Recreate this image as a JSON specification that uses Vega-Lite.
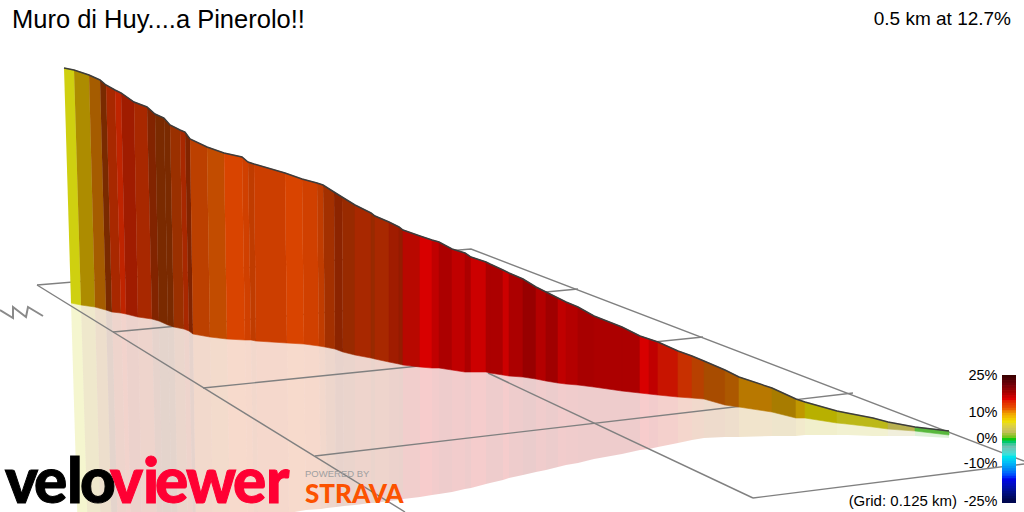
{"$schema":"https://vega.github.io/schema/vega-lite/v6.json","width":1024,"height":512,"padding":0,"autosize":{"type":"none"},"background":"white","view":{"stroke":null},
"config":{"legend":{"disable":true},"range":{"category":["#cfd010","#ad8c00","#a55c00","#7a2a00","#a82800","#bf2400","#a01c00","#822400","#9a3000","#bc4000","#c24c00","#d94400","#c03c00","#d04000","#cc3e00","#8c2400","#b80800","#d80000","#c00000","#ac0000","#980000","#cc0000","#c81400","#c83000","#b84000","#a84c00","#ac5800","#b87800","#a87c00","#c09800","#b8b000","#bcb818","#b8b050","#58b83c","#a33000","#982a00","#941c00","#b40000","#a00000","#a80000"]}},
"title":{"text":"Muro di Huy....a Pinerolo!!","anchor":"start","frame":"group","orient":"top","offset":-33,"dx":12,"font":"Liberation Sans","fontSize":25.5,"fontWeight":"normal","color":"#000"},
"datasets":{
"wallLeft":[
{"s":0,"t":"01","o":1,"x":64,"y":68},{"s":0,"t":"01","o":2,"x":74,"y":70},{"s":0,"t":"01","o":3,"x":81,"y":305},{"s":0,"t":"01","o":4,"x":71,"y":303},
{"s":1,"t":"02","o":1,"x":74,"y":70},{"s":1,"t":"02","o":2,"x":89,"y":75},{"s":1,"t":"02","o":3,"x":95,"y":307},{"s":1,"t":"02","o":4,"x":81,"y":305},
{"s":2,"t":"03","o":1,"x":89,"y":75},{"s":2,"t":"03","o":2,"x":100,"y":80},{"s":2,"t":"03","o":3,"x":106,"y":310},{"s":2,"t":"03","o":4,"x":95,"y":307},
{"s":3,"t":"04","o":1,"x":100,"y":80},{"s":3,"t":"04","o":2,"x":106,"y":85},{"s":3,"t":"04","o":3,"x":112,"y":312},{"s":3,"t":"04","o":4,"x":106,"y":310},
{"s":4,"t":"05","o":1,"x":106,"y":85},{"s":4,"t":"05","o":2,"x":115,"y":90},{"s":4,"t":"05","o":3,"x":121,"y":313},{"s":4,"t":"05","o":4,"x":112,"y":312},
{"s":5,"t":"06","o":1,"x":115,"y":90},{"s":5,"t":"06","o":2,"x":121,"y":93},{"s":5,"t":"06","o":3,"x":126,"y":314},{"s":5,"t":"06","o":4,"x":121,"y":313},
{"s":6,"t":"07","o":1,"x":121,"y":93},{"s":6,"t":"07","o":2,"x":134,"y":102},{"s":6,"t":"07","o":3,"x":138,"y":317},{"s":6,"t":"07","o":4,"x":126,"y":314},
{"s":7,"t":"05","o":1,"x":134,"y":102},{"s":7,"t":"05","o":2,"x":147,"y":107},{"s":7,"t":"05","o":3,"x":152,"y":319},{"s":7,"t":"05","o":4,"x":138,"y":317},
{"s":8,"t":"08","o":1,"x":147,"y":107},{"s":8,"t":"08","o":2,"x":155,"y":114},{"s":8,"t":"08","o":3,"x":159,"y":321},{"s":8,"t":"08","o":4,"x":152,"y":319},
{"s":9,"t":"04","o":1,"x":155,"y":114},{"s":9,"t":"04","o":2,"x":164,"y":118},{"s":9,"t":"04","o":3,"x":168,"y":325},{"s":9,"t":"04","o":4,"x":159,"y":321},
{"s":10,"t":"04","o":1,"x":164,"y":118},{"s":10,"t":"04","o":2,"x":170,"y":125},{"s":10,"t":"04","o":3,"x":174,"y":327},{"s":10,"t":"04","o":4,"x":168,"y":325},
{"s":11,"t":"09","o":1,"x":170,"y":125},{"s":11,"t":"09","o":2,"x":180,"y":130},{"s":11,"t":"09","o":3,"x":184,"y":329},{"s":11,"t":"09","o":4,"x":174,"y":327},
{"s":12,"t":"05","o":1,"x":180,"y":130},{"s":12,"t":"05","o":2,"x":185,"y":132},{"s":12,"t":"05","o":3,"x":189,"y":331},{"s":12,"t":"05","o":4,"x":184,"y":329},
{"s":13,"t":"08","o":1,"x":185,"y":132},{"s":13,"t":"08","o":2,"x":190,"y":139},{"s":13,"t":"08","o":3,"x":193,"y":334},{"s":13,"t":"08","o":4,"x":189,"y":331},
{"s":14,"t":"10","o":1,"x":190,"y":139},{"s":14,"t":"10","o":2,"x":207,"y":147},{"s":14,"t":"10","o":3,"x":210,"y":337},{"s":14,"t":"10","o":4,"x":193,"y":334},
{"s":15,"t":"11","o":1,"x":207,"y":147},{"s":15,"t":"11","o":2,"x":224,"y":153},{"s":15,"t":"11","o":3,"x":227,"y":339},{"s":15,"t":"11","o":4,"x":210,"y":337},
{"s":16,"t":"12","o":1,"x":224,"y":153},{"s":16,"t":"12","o":2,"x":242,"y":157},{"s":16,"t":"12","o":3,"x":245,"y":340},{"s":16,"t":"12","o":4,"x":227,"y":339},
{"s":17,"t":"14","o":1,"x":242,"y":157},{"s":17,"t":"14","o":2,"x":248,"y":162},{"s":17,"t":"14","o":3,"x":251,"y":340},{"s":17,"t":"14","o":4,"x":245,"y":340},
{"s":18,"t":"13","o":1,"x":248,"y":162},{"s":18,"t":"13","o":2,"x":254,"y":164},{"s":18,"t":"13","o":3,"x":256,"y":341},{"s":18,"t":"13","o":4,"x":251,"y":340},
{"s":19,"t":"15","o":1,"x":254,"y":164},{"s":19,"t":"15","o":2,"x":285,"y":173},{"s":19,"t":"15","o":3,"x":287,"y":343},{"s":19,"t":"15","o":4,"x":256,"y":341},
{"s":20,"t":"12","o":1,"x":285,"y":173},{"s":20,"t":"12","o":2,"x":302,"y":179},{"s":20,"t":"12","o":3,"x":304,"y":344},{"s":20,"t":"12","o":4,"x":287,"y":343},
{"s":21,"t":"14","o":1,"x":302,"y":179},{"s":21,"t":"14","o":2,"x":317,"y":183},{"s":21,"t":"14","o":3,"x":319,"y":346},{"s":21,"t":"14","o":4,"x":304,"y":344},
{"s":22,"t":"13","o":1,"x":317,"y":183},{"s":22,"t":"13","o":2,"x":323,"y":185},{"s":22,"t":"13","o":3,"x":325,"y":347},{"s":22,"t":"13","o":4,"x":319,"y":346},
{"s":23,"t":"35","o":1,"x":323,"y":185},{"s":23,"t":"35","o":2,"x":334,"y":192},{"s":23,"t":"35","o":3,"x":335,"y":349},{"s":23,"t":"35","o":4,"x":325,"y":347},
{"s":24,"t":"16","o":1,"x":334,"y":192},{"s":24,"t":"16","o":2,"x":342,"y":197},{"s":24,"t":"16","o":3,"x":343,"y":352},{"s":24,"t":"16","o":4,"x":335,"y":349},
{"s":25,"t":"36","o":1,"x":342,"y":197},{"s":25,"t":"36","o":2,"x":355,"y":205},{"s":25,"t":"36","o":3,"x":355,"y":355},{"s":25,"t":"36","o":4,"x":343,"y":352}],
"mirrorLeft":[
{"s":0,"t":"01","o":1,"x":71,"y":303},{"s":0,"t":"01","o":2,"x":81,"y":305},{"s":0,"t":"01","o":3,"x":88,"y":540},{"s":0,"t":"01","o":4,"x":78,"y":538},
{"s":1,"t":"02","o":1,"x":81,"y":305},{"s":1,"t":"02","o":2,"x":95,"y":307},{"s":1,"t":"02","o":3,"x":101,"y":539},{"s":1,"t":"02","o":4,"x":88,"y":540},
{"s":2,"t":"03","o":1,"x":95,"y":307},{"s":2,"t":"03","o":2,"x":106,"y":310},{"s":2,"t":"03","o":3,"x":112,"y":540},{"s":2,"t":"03","o":4,"x":101,"y":539},
{"s":3,"t":"04","o":1,"x":106,"y":310},{"s":3,"t":"04","o":2,"x":112,"y":312},{"s":3,"t":"04","o":3,"x":118,"y":539},{"s":3,"t":"04","o":4,"x":112,"y":540},
{"s":4,"t":"05","o":1,"x":112,"y":312},{"s":4,"t":"05","o":2,"x":121,"y":313},{"s":4,"t":"05","o":3,"x":127,"y":536},{"s":4,"t":"05","o":4,"x":118,"y":539},
{"s":5,"t":"06","o":1,"x":121,"y":313},{"s":5,"t":"06","o":2,"x":126,"y":314},{"s":5,"t":"06","o":3,"x":131,"y":535},{"s":5,"t":"06","o":4,"x":127,"y":536},
{"s":6,"t":"07","o":1,"x":126,"y":314},{"s":6,"t":"07","o":2,"x":138,"y":317},{"s":6,"t":"07","o":3,"x":142,"y":532},{"s":6,"t":"07","o":4,"x":131,"y":535},
{"s":7,"t":"05","o":1,"x":138,"y":317},{"s":7,"t":"05","o":2,"x":152,"y":319},{"s":7,"t":"05","o":3,"x":157,"y":531},{"s":7,"t":"05","o":4,"x":142,"y":532},
{"s":8,"t":"08","o":1,"x":152,"y":319},{"s":8,"t":"08","o":2,"x":159,"y":321},{"s":8,"t":"08","o":3,"x":163,"y":530},{"s":8,"t":"08","o":4,"x":157,"y":531},
{"s":9,"t":"04","o":1,"x":159,"y":321},{"s":9,"t":"04","o":2,"x":168,"y":325},{"s":9,"t":"04","o":3,"x":172,"y":530},{"s":9,"t":"04","o":4,"x":163,"y":530},
{"s":10,"t":"04","o":1,"x":168,"y":325},{"s":10,"t":"04","o":2,"x":174,"y":327},{"s":10,"t":"04","o":3,"x":178,"y":529},{"s":10,"t":"04","o":4,"x":172,"y":530},
{"s":11,"t":"09","o":1,"x":174,"y":327},{"s":11,"t":"09","o":2,"x":184,"y":329},{"s":11,"t":"09","o":3,"x":188,"y":528},{"s":11,"t":"09","o":4,"x":178,"y":529},
{"s":12,"t":"05","o":1,"x":184,"y":329},{"s":12,"t":"05","o":2,"x":189,"y":331},{"s":12,"t":"05","o":3,"x":193,"y":528},{"s":12,"t":"05","o":4,"x":188,"y":528},
{"s":13,"t":"08","o":1,"x":189,"y":331},{"s":13,"t":"08","o":2,"x":193,"y":334},{"s":13,"t":"08","o":3,"x":196,"y":528},{"s":13,"t":"08","o":4,"x":193,"y":528},
{"s":14,"t":"10","o":1,"x":193,"y":334},{"s":14,"t":"10","o":2,"x":210,"y":337},{"s":14,"t":"10","o":3,"x":213,"y":527},{"s":14,"t":"10","o":4,"x":196,"y":528},
{"s":15,"t":"11","o":1,"x":210,"y":337},{"s":15,"t":"11","o":2,"x":227,"y":339},{"s":15,"t":"11","o":3,"x":230,"y":525},{"s":15,"t":"11","o":4,"x":213,"y":527},
{"s":16,"t":"12","o":1,"x":227,"y":339},{"s":16,"t":"12","o":2,"x":245,"y":340},{"s":16,"t":"12","o":3,"x":248,"y":523},{"s":16,"t":"12","o":4,"x":230,"y":525},
{"s":17,"t":"14","o":1,"x":245,"y":340},{"s":17,"t":"14","o":2,"x":251,"y":340},{"s":17,"t":"14","o":3,"x":254,"y":519},{"s":17,"t":"14","o":4,"x":248,"y":523},
{"s":18,"t":"13","o":1,"x":251,"y":340},{"s":18,"t":"13","o":2,"x":256,"y":341},{"s":18,"t":"13","o":3,"x":258,"y":518},{"s":18,"t":"13","o":4,"x":254,"y":519},
{"s":19,"t":"15","o":1,"x":256,"y":341},{"s":19,"t":"15","o":2,"x":287,"y":343},{"s":19,"t":"15","o":3,"x":289,"y":513},{"s":19,"t":"15","o":4,"x":258,"y":518},
{"s":20,"t":"12","o":1,"x":287,"y":343},{"s":20,"t":"12","o":2,"x":304,"y":344},{"s":20,"t":"12","o":3,"x":306,"y":510},{"s":20,"t":"12","o":4,"x":289,"y":513},
{"s":21,"t":"14","o":1,"x":304,"y":344},{"s":21,"t":"14","o":2,"x":319,"y":346},{"s":21,"t":"14","o":3,"x":321,"y":509},{"s":21,"t":"14","o":4,"x":306,"y":510},
{"s":22,"t":"13","o":1,"x":319,"y":346},{"s":22,"t":"13","o":2,"x":325,"y":347},{"s":22,"t":"13","o":3,"x":327,"y":508},{"s":22,"t":"13","o":4,"x":321,"y":509},
{"s":23,"t":"35","o":1,"x":325,"y":347},{"s":23,"t":"35","o":2,"x":335,"y":349},{"s":23,"t":"35","o":3,"x":336,"y":507},{"s":23,"t":"35","o":4,"x":327,"y":508},
{"s":24,"t":"16","o":1,"x":335,"y":349},{"s":24,"t":"16","o":2,"x":343,"y":352},{"s":24,"t":"16","o":3,"x":344,"y":506},{"s":24,"t":"16","o":4,"x":336,"y":507},
{"s":25,"t":"36","o":1,"x":343,"y":352},{"s":25,"t":"36","o":2,"x":355,"y":355},{"s":25,"t":"36","o":3,"x":355,"y":505},{"s":25,"t":"36","o":4,"x":344,"y":506}],
"right":[
{"s":26,"t":"05","x":355,"top":205,"bot":355,"mir":505},{"s":26,"t":"05","x":371,"top":213,"bot":358,"mir":503},
{"s":27,"t":"36","x":371,"top":213,"bot":358,"mir":503},{"s":27,"t":"36","x":375,"top":216,"bot":359,"mir":503},
{"s":28,"t":"05","x":375,"top":216,"bot":359,"mir":503},{"s":28,"t":"05","x":389,"top":222,"bot":362,"mir":501},
{"s":29,"t":"07","x":389,"top":222,"bot":362,"mir":501},{"s":29,"t":"07","x":399,"top":227,"bot":364,"mir":500},
{"s":30,"t":"37","x":399,"top":227,"bot":364,"mir":500},{"s":30,"t":"37","x":403,"top":230,"bot":365,"mir":499},
{"s":31,"t":"17","x":403,"top":230,"bot":365,"mir":499},{"s":31,"t":"17","x":420,"top":236,"bot":367,"mir":497},
{"s":32,"t":"18","x":420,"top":236,"bot":367,"mir":497},{"s":32,"t":"18","x":432,"top":240,"bot":368,"mir":495},
{"s":33,"t":"19","x":432,"top":240,"bot":368,"mir":495},{"s":33,"t":"19","x":439,"top":242,"bot":368,"mir":494},
{"s":34,"t":"20","x":439,"top":242,"bot":368,"mir":494},{"s":34,"t":"20","x":452,"top":249,"bot":370,"mir":492},
{"s":35,"t":"19","x":452,"top":249,"bot":370,"mir":492},{"s":35,"t":"19","x":465,"top":253,"bot":372,"mir":489},
{"s":36,"t":"20","x":465,"top":253,"bot":372,"mir":489},{"s":36,"t":"20","x":471,"top":257,"bot":372,"mir":488},
{"s":37,"t":"22","x":471,"top":257,"bot":372,"mir":488},{"s":37,"t":"22","x":486,"top":262,"bot":372,"mir":484},
{"s":38,"t":"20","x":486,"top":262,"bot":372,"mir":484},{"s":38,"t":"20","x":490,"top":264,"bot":373,"mir":483},
{"s":39,"t":"20","x":490,"top":264,"bot":373,"mir":483},{"s":39,"t":"20","x":503,"top":270,"bot":375,"mir":480},
{"s":40,"t":"22","x":503,"top":270,"bot":375,"mir":480},{"s":40,"t":"22","x":509,"top":273,"bot":376,"mir":478},
{"s":41,"t":"20","x":509,"top":273,"bot":376,"mir":478},{"s":41,"t":"20","x":523,"top":279,"bot":377,"mir":475},
{"s":42,"t":"21","x":523,"top":279,"bot":377,"mir":475},{"s":42,"t":"21","x":536,"top":287,"bot":379,"mir":472},
{"s":43,"t":"38","x":536,"top":287,"bot":379,"mir":472},{"s":43,"t":"38","x":546,"top":292,"bot":381,"mir":470},
{"s":44,"t":"39","x":546,"top":292,"bot":381,"mir":470},{"s":44,"t":"39","x":558,"top":298,"bot":383,"mir":467},
{"s":45,"t":"19","x":558,"top":298,"bot":383,"mir":467},{"s":45,"t":"19","x":566,"top":302,"bot":384,"mir":465},
{"s":46,"t":"38","x":566,"top":302,"bot":384,"mir":465},{"s":46,"t":"38","x":578,"top":307,"bot":385,"mir":463},
{"s":47,"t":"40","x":578,"top":307,"bot":385,"mir":463},{"s":47,"t":"40","x":594,"top":316,"bot":387,"mir":459},
{"s":48,"t":"20","x":594,"top":316,"bot":387,"mir":459},{"s":48,"t":"20","x":622,"top":327,"bot":391,"mir":454},
{"s":49,"t":"20","x":622,"top":327,"bot":391,"mir":454},{"s":49,"t":"20","x":640,"top":336,"bot":393,"mir":450},
{"s":50,"t":"18","x":640,"top":336,"bot":393,"mir":450},{"s":50,"t":"18","x":649,"top":339,"bot":394,"mir":449},
{"s":51,"t":"19","x":649,"top":339,"bot":394,"mir":449},{"s":51,"t":"19","x":658,"top":342,"bot":395,"mir":447},
{"s":52,"t":"23","x":658,"top":342,"bot":395,"mir":447},{"s":52,"t":"23","x":678,"top":351,"bot":397,"mir":443},
{"s":53,"t":"24","x":678,"top":351,"bot":397,"mir":443},{"s":53,"t":"24","x":692,"top":356,"bot":398,"mir":440},
{"s":54,"t":"25","x":692,"top":356,"bot":398,"mir":440},{"s":54,"t":"25","x":704,"top":361,"bot":399,"mir":438},
{"s":55,"t":"26","x":704,"top":361,"bot":399,"mir":438},{"s":55,"t":"26","x":725,"top":370,"bot":405,"mir":437},
{"s":56,"t":"27","x":725,"top":370,"bot":405,"mir":437},{"s":56,"t":"27","x":739,"top":377,"bot":407,"mir":437},
{"s":57,"t":"28","x":739,"top":377,"bot":407,"mir":437},{"s":57,"t":"28","x":772,"top":388,"bot":412,"mir":436},
{"s":58,"t":"29","x":772,"top":388,"bot":412,"mir":436},{"s":58,"t":"29","x":796,"top":399,"bot":418,"mir":436},
{"s":59,"t":"30","x":796,"top":399,"bot":418,"mir":436},{"s":59,"t":"30","x":805,"top":402,"bot":418,"mir":435},
{"s":60,"t":"31","x":805,"top":402,"bot":418,"mir":435},{"s":60,"t":"31","x":837,"top":411,"bot":423,"mir":435},
{"s":61,"t":"32","x":837,"top":411,"bot":423,"mir":435},{"s":61,"t":"32","x":847,"top":413,"bot":424,"mir":435},
{"s":62,"t":"32","x":847,"top":413,"bot":424,"mir":435},{"s":62,"t":"32","x":873,"top":418,"bot":427,"mir":436},
{"s":63,"t":"32","x":873,"top":418,"bot":427,"mir":436},{"s":63,"t":"32","x":888,"top":422,"bot":429,"mir":436},
{"s":64,"t":"33","x":888,"top":422,"bot":429,"mir":436},{"s":64,"t":"33","x":915,"top":427,"bot":431,"mir":436},
{"s":65,"t":"34","x":915,"top":427,"bot":431,"mir":436},{"s":65,"t":"34","x":949,"top":431,"bot":435,"mir":438}],
"ridge":[{"x":64,"y":68},{"x":74,"y":70},{"x":89,"y":75},{"x":100,"y":80},{"x":106,"y":85},{"x":115,"y":90},{"x":121,"y":93},{"x":134,"y":102},{"x":147,"y":107},{"x":155,"y":114},{"x":164,"y":118},{"x":170,"y":125},{"x":180,"y":130},{"x":185,"y":132},{"x":190,"y":139},{"x":207,"y":147},{"x":224,"y":153},{"x":242,"y":157},{"x":248,"y":162},{"x":254,"y":164},{"x":285,"y":173},{"x":302,"y":179},{"x":317,"y":183},{"x":323,"y":185},{"x":334,"y":192},{"x":342,"y":197},{"x":355,"y":205},{"x":371,"y":213},{"x":375,"y":216},{"x":389,"y":222},{"x":399,"y":227},{"x":403,"y":230},{"x":420,"y":236},{"x":432,"y":240},{"x":439,"y":242},{"x":452,"y":249},{"x":465,"y":253},{"x":471,"y":257},{"x":486,"y":262},{"x":490,"y":264},{"x":503,"y":270},{"x":509,"y":273},{"x":523,"y":279},{"x":536,"y":287},{"x":546,"y":292},{"x":558,"y":298},{"x":566,"y":302},{"x":578,"y":307},{"x":594,"y":316},{"x":622,"y":327},{"x":640,"y":336},{"x":649,"y":339},{"x":658,"y":342},{"x":678,"y":351},{"x":692,"y":356},{"x":704,"y":361},{"x":725,"y":370},{"x":739,"y":377},{"x":772,"y":388},{"x":796,"y":399},{"x":805,"y":402},{"x":837,"y":411},{"x":847,"y":413},{"x":873,"y":418},{"x":888,"y":422},{"x":915,"y":427},{"x":949,"y":431}],
"grid":[{"k":"A","o":1,"x":37,"y":285},{"k":"A","o":2,"x":405,"y":512},{"k":"B","o":1,"x":37,"y":285},{"k":"B","o":2,"x":471,"y":249},{"k":"B","o":3,"x":1024,"y":461},{"k":"C","o":1,"x":113,"y":332},{"k":"C","o":2,"x":578,"y":289},{"k":"D","o":1,"x":203,"y":388},{"k":"D","o":2,"x":703,"y":337},{"k":"E","o":1,"x":315,"y":456},{"k":"E","o":2,"x":853,"y":393},{"k":"F","o":1,"x":753,"y":498},{"k":"F","o":2,"x":1024,"y":464},{"k":"G","o":1,"x":488,"y":373},{"k":"G","o":2,"x":753,"y":498}],
"north":[{"o":1,"x":0,"y":310},{"o":2,"x":13,"y":318},{"o":3,"x":13,"y":307},{"o":4,"x":26,"y":317},{"o":5,"x":28,"y":307},{"o":6,"x":43,"y":316}],
"velo":[{"l":"v","x":5},{"l":"e","x":34},{"l":"l","x":67},{"l":"o","x":80}],
"viewer":[{"l":"v","x":110},{"l":"i","x":143},{"l":"e","x":155},{"l":"w","x":186},{"l":"e","x":233},{"l":"r","x":266}],
"bar":[{"g":25,"h":23.7},{"g":24,"h":22.7},{"g":23,"h":21.7},{"g":22,"h":20.7},{"g":21,"h":19.7},{"g":20,"h":18.7},{"g":19,"h":17.7},{"g":18,"h":16.7},{"g":17,"h":15.7},{"g":16,"h":14.7},{"g":15,"h":13.7},{"g":14,"h":12.7},{"g":13,"h":11.7},{"g":12,"h":10.7},{"g":11,"h":9.7},{"g":10,"h":8.7},{"g":9,"h":7.7},{"g":8,"h":6.7},{"g":7,"h":5.7},{"g":6,"h":4.7},{"g":5,"h":3.7},{"g":4,"h":2.7},{"g":3,"h":1.7},{"g":2,"h":0.7},{"g":1,"h":-0.3},{"g":0,"h":-1.3},{"g":-1,"h":-2.3},{"g":-2,"h":-3.3},{"g":-3,"h":-4.3},{"g":-4,"h":-5.3},{"g":-5,"h":-6.3},{"g":-6,"h":-7.3},{"g":-7,"h":-8.3},{"g":-8,"h":-9.3},{"g":-9,"h":-10.3},{"g":-10,"h":-11.3},{"g":-11,"h":-12.3},{"g":-12,"h":-13.3},{"g":-13,"h":-14.3},{"g":-14,"h":-15.3},{"g":-15,"h":-16.3},{"g":-16,"h":-17.3},{"g":-17,"h":-18.3},{"g":-18,"h":-19.3},{"g":-19,"h":-20.3},{"g":-20,"h":-21.3},{"g":-21,"h":-22.3},{"g":-22,"h":-23.3},{"g":-23,"h":-24.3},{"g":-24,"h":-25.8}]
},
"layer":[
{"layer":[
{"data":{"name":"mirrorLeft"},"mark":{"type":"line","opacity":0.2,"strokeWidth":0,"clip":true},"encoding":{"x":{"field":"x","type":"quantitative","scale":{"domain":[0,1024],"nice":false,"zero":false},"axis":null},"y":{"field":"y","type":"quantitative","scale":{"domain":[512,0],"nice":false,"zero":false},"axis":null},"order":{"field":"o"},"detail":{"field":"s"},"fill":{"field":"t","type":"nominal"}}},
{"data":{"name":"right"},"mark":{"type":"area","opacity":0.2,"clip":true},"encoding":{"x":{"field":"x","type":"quantitative"},"y":{"field":"bot","type":"quantitative"},"y2":{"field":"mir"},"detail":{"field":"s"},"fill":{"field":"t","type":"nominal"}}},
{"data":{"name":"grid"},"mark":{"type":"line","color":"#808080","strokeWidth":1.4},"encoding":{"x":{"field":"x","type":"quantitative"},"y":{"field":"y","type":"quantitative"},"order":{"field":"o"},"detail":{"field":"k"}}},
{"data":{"name":"north"},"mark":{"type":"line","color":"#8a8a8a","strokeWidth":2},"encoding":{"x":{"field":"x","type":"quantitative"},"y":{"field":"y","type":"quantitative"},"order":{"field":"o"}}},
{"data":{"name":"wallLeft"},"mark":{"type":"line","strokeWidth":0.6},"encoding":{"x":{"field":"x","type":"quantitative"},"y":{"field":"y","type":"quantitative"},"order":{"field":"o"},"detail":{"field":"s"},"fill":{"field":"t","type":"nominal"},"stroke":{"field":"t","type":"nominal"}}},
{"data":{"name":"right"},"mark":{"type":"area","strokeWidth":0.6},"encoding":{"x":{"field":"x","type":"quantitative"},"y":{"field":"top","type":"quantitative"},"y2":{"field":"bot"},"detail":{"field":"s"},"fill":{"field":"t","type":"nominal"},"stroke":{"field":"t","type":"nominal"}}},
{"data":{"name":"ridge"},"mark":{"type":"line","color":"#3c3c3c","strokeWidth":1.5},"encoding":{"x":{"field":"x","type":"quantitative"},"y":{"field":"y","type":"quantitative"}}},
{"data":{"name":"velo"},"mark":{"type":"text","align":"left","baseline":"alphabetic","font":"Lato","fontWeight":900,"fontSize":62,"color":"#000","stroke":"#000","strokeWidth":1},"encoding":{"x":{"field":"x","type":"quantitative"},"y":{"datum":503},"text":{"field":"l"}}},
{"data":{"name":"viewer"},"mark":{"type":"text","align":"left","baseline":"alphabetic","font":"Lato","fontWeight":900,"fontSize":62,"color":"#ff0033","stroke":"#ff0033","strokeWidth":1},"encoding":{"x":{"field":"x","type":"quantitative"},"y":{"datum":503},"text":{"field":"l"}}},
{"data":{"values":[{"a":1}]},"mark":{"type":"text","align":"right","baseline":"middle","font":"Liberation Sans","fontSize":19,"color":"#000"},"encoding":{"x":{"datum":1011},"y":{"datum":19},"text":{"value":"0.5 km at 12.7%"}}},
{"data":{"values":[{"a":1}]},"mark":{"type":"text","align":"right","baseline":"middle","font":"Liberation Sans","fontSize":15,"color":"#000"},"encoding":{"x":{"datum":957},"y":{"datum":501},"text":{"value":"(Grid: 0.125 km)"}}},
{"data":{"values":[{"a":1}]},"mark":{"type":"text","align":"left","baseline":"alphabetic","font":"Liberation Sans","fontSize":9.5,"color":"#a0a0a0"},"encoding":{"x":{"datum":305},"y":{"datum":477},"text":{"value":"POWERED BY"}}},
{"data":{"values":[{"a":1}]},"mark":{"type":"text","align":"left","baseline":"alphabetic","font":"Lato","fontWeight":900,"fontSize":26,"color":"#fc5200"},"encoding":{"x":{"datum":305},"y":{"datum":503},"text":{"value":"STRAVA"}}}
]},
{"data":{"name":"bar"},"mark":{"type":"rect"},"encoding":{"x":{"datum":1002},"x2":{"datum":1016},"y":{"field":"g","type":"quantitative","scale":{"domain":[-25,25],"range":[501,375],"nice":false,"zero":false},"axis":{"orient":"left","offset":-997,"values":[25,10,0,-10,-25],"ticks":false,"domain":false,"grid":false,"title":null,"labelPadding":0,"labelFont":"Liberation Sans","labelFontSize":14.5,"labelColor":"#000","labelExpr":"datum.value+'%'"}},"y2":{"field":"h"},"color":{"field":"g","type":"quantitative","scale":{"domain":[-25,-15.5,-11.5,-6.7,-2.8,0,3.2,7.1,10.3,12.3,15.9,19,25],"range":["#000040","#0000f0","#0090f0","#10e8e8","#70c0b0","#10c810","#c8c060","#f0e000","#f0a000","#e85000","#e00000","#a00000","#3c0000"]},"legend":null}}}
],
"resolve":{"scale":{"y":"independent","color":"independent"},"axis":{"y":"independent"}}}
